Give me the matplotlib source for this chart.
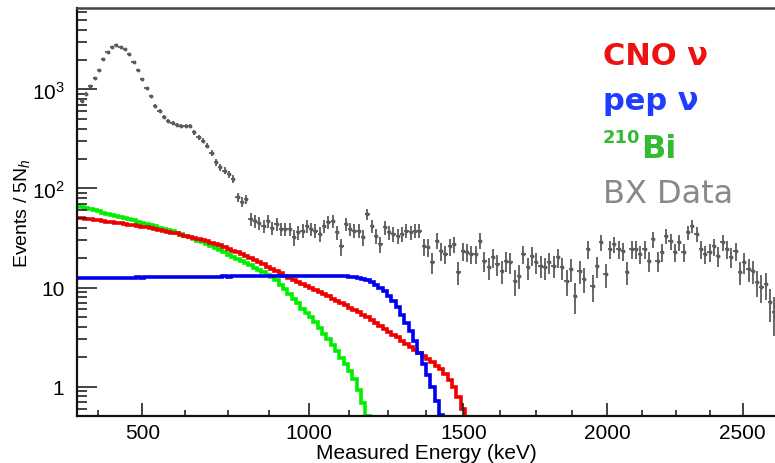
import matplotlib
matplotlib.use("Agg")
import matplotlib.pyplot as plt
import numpy as np
from matplotlib.ticker import FixedLocator, FixedFormatter, LogLocator, NullFormatter

# ============================================================
# PLOT CONFIGURATION
# ============================================================
plt.rcParams['font.family'] = ['Liberation Sans', 'DejaVu Sans']
plt.rcParams['mathtext.fontset'] = 'custom'
plt.rcParams['mathtext.rm'] = 'Liberation Sans'
plt.rcParams['mathtext.it'] = 'Liberation Sans:italic'
plt.rcParams['mathtext.bf'] = 'Liberation Sans:bold'

# ============================================================
# DATA (per 5 N_h bin, first bin starts at NH_START)
# ============================================================
bx_data = [
    np.nan,
    770, 905, 1080, 1300, 1585, 2030, 2380, 2670, 2810, 2670,
    2565, 2285, 1885, 1585, 1275, 1030, 855, 685, 610, 525,
    485, 460, 438, 431, 425, 431, 370, 330, 304, 271,
    228, 184, 164, 151, 140, 125, 82, 73, 78, 49,
    47, 45, 42, 47, 40, 44,
    39, 39, 39, 32, 36, 37.5, 42, 39, 37.5, 35,
    42, 46, 47, 36, 26, 44, 39, 37.5, 37.5, 32,
    55, 42, 33, 27.5, 40.5, 36, 35, 33, 35, 37.5,
    36, 37.5, 37.5, 26, 25.5, 18, 29.7, 23.5, 21.8, 26,
    27.5, 14.3, 23.5, 22.7, 21.8, 21.8, 29.7, 18.7, 16, 20.2,
    17.3, 14.8, 18.7, 18, 11.7, 13.2, 21.8, 16, 21, 18,
    16.6, 16, 18, 16.6, 20.2, 16, 11.7, 15.4, 8.3, 14.8, 12.2,
    24.5, 10.3, 16.5, 28.5, 13.7, 24.5, 27.5, 24.5, 23.4, 14.3,
    24.5, 24.5, 21.8, 24.5, 18.5, 30.8, 18.5, 22.7, 33, 29.5,
    22.7, 28.6, 22.7, 36, 42, 35, 24.5, 21.8, 22.7, 26,
    20.8, 28.6, 24.5, 20.3, 23.4, 14.3, 18, 15.3, 14.7, 11.3,
    10.1, 10.8, 7.1, 5.6,
]

cno = [
    50.3,
    49.8, 49.2, 48.7, 48.2, 47.7, 47.1, 46.4, 45.7, 45.1, 44.4,
    43.8, 43.1, 42.4, 41.8, 41.1, 40.5, 39.7, 39.0, 38.2, 37.4,
    36.7, 35.9, 35.2, 34.3, 33.5, 32.7, 31.9, 31.2, 30.3, 29.3,
    28.4, 27.5, 26.6, 25.8, 24.7, 23.6, 22.6, 21.6, 20.7, 19.8,
    18.8, 18.0, 17.1, 16.3, 15.5, 14.8, 13.9, 13.1, 12.5, 11.9,
    11.3, 10.8, 10.3, 9.8, 9.4, 9.0, 8.6, 8.2, 7.7, 7.3,
    6.95, 6.6, 6.25, 5.9, 5.6, 5.3, 4.98, 4.65, 4.35, 4.07,
    3.81, 3.57, 3.35, 3.13, 2.90, 2.69, 2.49, 2.32, 2.17, 2.04,
    1.90, 1.76, 1.62, 1.49, 1.34, 1.16, 0.98, 0.78, 0.60, 0.46,
]

pep = [
    12.4,
    12.4, 12.4, 12.5, 12.4, 12.5, 12.5, 12.5, 12.6, 12.5, 12.6,
    12.6, 12.6, 12.6, 12.7, 12.6, 12.7, 12.7, 12.7, 12.7, 12.8,
    12.7, 12.8, 12.8, 12.8, 12.8, 12.8, 12.9, 12.8, 12.9, 12.9,
    12.9, 12.9, 12.9, 13.0, 12.9, 13.0, 13.0, 13.0, 13.0, 13.0,
    13.1, 13.0, 13.1, 13.1, 13.1, 13.1, 13.1, 13.2, 13.1, 13.2,
    13.2, 13.2, 13.2, 13.2, 13.2, 13.2, 13.2, 13.1, 13.1, 13.1,
    13.1, 13.0, 12.9, 12.7, 12.5, 12.2, 11.8, 11.3, 10.7, 10.0,
    9.2, 8.3, 7.3, 6.3, 5.3, 4.4, 3.6, 2.85, 2.2, 1.7,
    1.3, 0.98, 0.72, 0.52, 0.37,
]

bi210 = [
    66.4,
    64.9, 63.2, 61.8, 60.2, 58.7, 57.2, 55.8, 54.5, 53.1, 51.8,
    50.5, 49.1, 47.6, 46.3, 45.0, 43.8, 42.6, 41.4, 40.3, 39.2,
    38.1, 37.0, 35.8, 34.5, 33.2, 32.0, 30.8, 29.8, 28.7, 27.5,
    26.2, 24.9, 23.8, 22.6, 21.5, 20.5, 19.5, 18.6, 17.7, 16.8,
    15.9, 15.0, 14.2, 13.4, 12.7, 11.9, 10.7, 9.6, 8.6, 7.7,
    6.9, 6.1, 5.5, 5.0, 4.45, 3.9, 3.4, 3.0, 2.6, 2.26,
    1.95, 1.68, 1.45, 1.19, 0.92, 0.68, 0.50, 0.39,
]

y_ticks = [1, 10, 100, 1000]
y_ticklabels = ['1', '10', r'$10^{2}$', r'$10^{3}$']
x_ticks = [500, 1000, 1500, 2000, 2500]

# ============================================================
# ENERGY SCALE  (N_h -> keV, quadratic response)
# ============================================================
E0, A, B = 500.0, 2.4831, 5.793e-4
NH_START, NH_BIN = -77.5, 5.0


def nh_to_e(n):
    n = np.asarray(n, dtype=float)
    return E0 + A * n + B * n ** 2


def e_to_nh(e):
    e = np.asarray(e, dtype=float)
    disc = np.clip(A ** 2 + 4 * B * (e - E0), 0, None)
    return (-A + np.sqrt(disc)) / (2 * B)


# ============================================================
# FIGURE
# ============================================================
fig = plt.figure(figsize=(7.75, 4.64), dpi=100)
ax = fig.add_axes([77 / 775, 1 - 417 / 464, 698 / 775, 408 / 464])
ax.set_xscale('function', functions=(e_to_nh, nh_to_e))
ax.set_yscale('log')

nb = len(bx_data)
edges = nh_to_e(NH_START + NH_BIN * np.arange(nb + 1))
centers = nh_to_e(NH_START + NH_BIN * (np.arange(nb) + 0.5))
counts = np.array(bx_data, dtype=float)

ax.stairs(bi210, edges[:len(bi210) + 1], baseline=None, color='#00ee00', lw=2.6)
ax.stairs(cno, edges[:len(cno) + 1], baseline=None, color='#ee0000', lw=2.6)
ax.stairs(pep, edges[:len(pep) + 1], baseline=None, color='#0000ee', lw=2.6)

ax.errorbar(centers, counts,
            xerr=[centers - edges[:-1], edges[1:] - centers],
            yerr=np.sqrt(counts),
            fmt='o', ms=1.8, color='#5c5c5c', ecolor='#5c5c5c',
            elinewidth=1.3, capsize=0)

ax.set_xlim(nh_to_e(-75.4), nh_to_e(730.6))
ax.set_ylim(0.504, 6650)

# ticks
ax.xaxis.set_major_locator(FixedLocator(x_ticks))
ax.xaxis.set_minor_locator(FixedLocator(np.arange(375, 2626, 125)))
ax.yaxis.set_major_locator(FixedLocator(y_ticks))
ax.yaxis.set_major_formatter(FixedFormatter(y_ticklabels))
ax.yaxis.set_minor_locator(LogLocator(base=10, subs=np.arange(2, 10)))
ax.yaxis.set_minor_formatter(NullFormatter())

ax.tick_params(axis='both', which='both', direction='in', labelsize=15,
               top=False, right=False, width=1.2, color='#222222')
ax.tick_params(axis='x', which='major', length=9.5, pad=5)
ax.tick_params(axis='x', which='minor', length=4.5)
ax.tick_params(axis='y', which='major', length=14.5, pad=9)
ax.tick_params(axis='y', which='minor', length=7.2)

for side in ['left', 'bottom']:
    ax.spines[side].set_linewidth(1.6)
    ax.spines[side].set_color('#111111')
ax.spines['top'].set_linewidth(1.8)
ax.spines['top'].set_color('#444444')
ax.spines['right'].set_visible(False)

ax.set_xlabel('Measured Energy (keV)', fontsize=15, labelpad=1)
ax.set_ylabel(r'Events / 5N$_{h}$', fontsize=14, labelpad=0)

# ============================================================
# LEGEND TEXT
# ============================================================
def fig_text(x, y, s, **kw):
    fig.text(x / 775, 1 - y / 464, s, va='baseline', ha='left',
             family='DejaVu Sans', **kw)


fig_text(603, 65, 'CNO ν', color='#ee1111', fontsize=22, weight='bold')
fig_text(603, 110, 'pep ν', color='#1f3cff', fontsize=22, weight='bold')
fig_text(603, 143, '210', color='#33bb33', fontsize=13, weight='bold')
fig_text(641, 158, 'Bi', color='#33bb33', fontsize=23, weight='bold')
fig_text(603, 203, 'BX Data', color='#888888', fontsize=23)

fig.savefig('out.png', dpi=100)
